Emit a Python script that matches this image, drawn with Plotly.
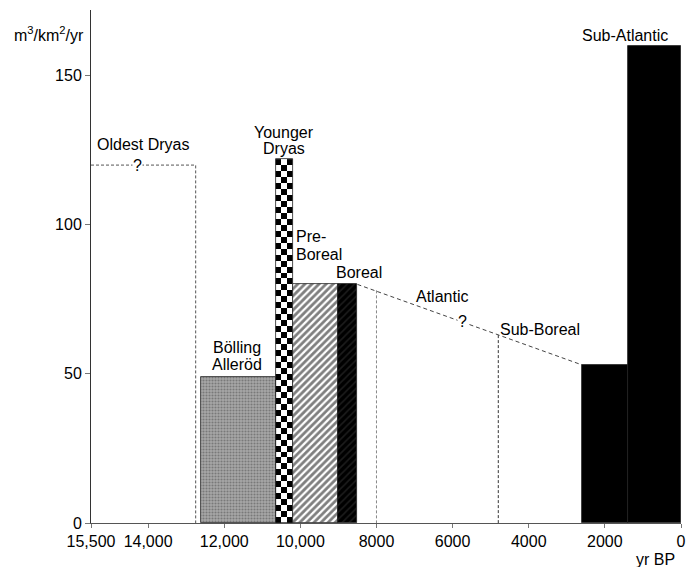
import numpy as np
import plotly.graph_objects as go

# ---- data (years BP, m3/km2/yr) ----
periods = ["Bölling Alleröd", "Younger Dryas", "Pre-Boreal", "Boreal", "Sub-Boreal", "Sub-Atlantic"]
period_start = [12600, 10650, 10200, 9000, 2600, 1400]
period_end = [10650, 10200, 9000, 8500, 1400, 0]
period_value = [49, 122, 80, 80, 53, 160]

oldest_dryas_x = [15500, 12750, 12750]
oldest_dryas_y = [120, 120, 0]

atlantic_x = [8500, 2600]
atlantic_y = [80, 53]

divider_x = [8000, 4800]
divider_top = [78, 63]

x_tickvals = [15500, 14000, 12000, 10000, 8000, 6000, 4000, 2000, 0]
x_ticktext = ["15,500", "14,000", "12,000", "10,000", "8000", "6000", "4000", "2000", "0"]
y_tickvals = [0, 50, 100, 150]

FONT = "Liberation Sans, Arial, Helvetica, sans-serif"

fig = go.Figure()

# checkerboard texture for the Younger Dryas bar (built from its extents)
yd = periods.index("Younger Dryas")
ncol = 3
nrow = int(round(period_value[yd] / 2.0))
dx = (period_start[yd] - period_end[yd]) / ncol
dy = period_value[yd] / nrow
z = np.indices((nrow, ncol)).sum(axis=0) % 2
fig.add_trace(go.Heatmap(
    z=z, x0=period_end[yd] + dx / 2, dx=dx, y0=dy / 2, dy=dy,
    colorscale=[[0, "black"], [1, "white"]], showscale=False,
    zsmooth=False, hoverinfo="skip"))

fills = {
    "Bölling Alleröd": dict(color="#9c9c9c", pattern=dict(shape=".", fgcolor="#4a4a4a", bgcolor="#a8a8a8", size=3, solidity=0.4)),
    "Younger Dryas": dict(color="rgba(0,0,0,0)"),
    "Pre-Boreal": dict(color="white", pattern=dict(shape="/", fgcolor="black", bgcolor="white", size=5, solidity=0.55)),
    "Boreal": dict(color="black", pattern=dict(shape="/", fgcolor="#3a3a3a", bgcolor="black", size=5, solidity=0.3)),
    "Sub-Boreal": dict(color="black"),
    "Sub-Atlantic": dict(color="black"),
}

for name, s, e, v in zip(periods, period_start, period_end, period_value):
    m = dict(fills[name])
    m["line"] = dict(color="#222222", width=0.8)
    fig.add_trace(go.Bar(
        x=[(s + e) / 2], y=[v], width=[s - e], base=0,
        marker=m, name=name, showlegend=False, hoverinfo="skip"))

# Oldest Dryas dotted outline
fig.add_trace(go.Scatter(x=oldest_dryas_x, y=oldest_dryas_y, mode="lines",
                         line=dict(color="#555555", width=1, dash="3px,2px"),
                         showlegend=False, hoverinfo="skip"))
# Atlantic sloping line
fig.add_trace(go.Scatter(x=atlantic_x, y=atlantic_y, mode="lines",
                         line=dict(color="#444444", width=1, dash="4px,3px"),
                         showlegend=False, hoverinfo="skip"))
# vertical dividers
for xv, top, col in zip(divider_x, divider_top, ["#888888", "#333333"]):
    fig.add_trace(go.Scatter(x=[xv, xv], y=[top, 0], mode="lines",
                             line=dict(color=col, width=1, dash="3px,2px"),
                             showlegend=False, hoverinfo="skip"))

labels = [
    ("Oldest Dryas", 14130, 127, "center"),
    ("Younger", 10430, 131, "center"),
    ("Dryas", 10430, 125.5, "center"),
    ("Pre-", 10160, 96, "left"),
    ("Boreal", 10160, 90, "left"),
    ("Boreal", 8460, 84, "center"),
    ("Bölling", 11665, 59, "center"),
    ("Alleröd", 11665, 53.3, "center"),
    ("Atlantic", 6280, 76, "center"),
    ("Sub-Boreal", 3705, 65, "center"),
    ("Sub-Atlantic", 1470, 163.5, "center"),
]
for txt, x, y, al in labels:
    fig.add_annotation(x=x, y=y, text=txt, showarrow=False, xanchor=al, align=al,
                       yanchor="middle", font=dict(family=FONT, size=16, color="black"))

for x, y in [(14275, 120), (5735, 67.6)]:
    fig.add_annotation(x=x, y=y, text="?", showarrow=False, bgcolor="white",
                       borderpad=0, font=dict(family=FONT, size=16, color="black"))

fig.add_annotation(x=-79 / 590, y=0.953, xref="paper", yref="paper", text="m<sup>3</sup>/km<sup>2</sup>/yr",
                   showarrow=False, xanchor="left", yanchor="middle",
                   font=dict(family=FONT, size=16, color="black"))
fig.add_annotation(x=0.994, y=-0.0715, xref="paper", yref="paper", text="yr BP",
                   showarrow=False, xanchor="right", yanchor="middle",
                   font=dict(family=FONT, size=16, color="black"))

fig.update_layout(
    width=686, height=567,
    margin=dict(l=91, r=5, t=10, b=44, autoexpand=False),
    plot_bgcolor="white", paper_bgcolor="white",
    barmode="overlay", bargap=0,
    font=dict(family=FONT, size=16, color="black"),
    showlegend=False,
)
fig.update_xaxes(range=[15500, 0], tickvals=x_tickvals, ticktext=x_ticktext,
                 showgrid=False, zeroline=False, showline=True, linecolor="#555555", linewidth=1,
                 ticks="outside", ticklen=4, tickcolor="#777777", tickfont=dict(size=16))
fig.update_yaxes(range=[0, 172], tickvals=y_tickvals, showgrid=False, zeroline=False,
                 showline=True, linecolor="#333333", linewidth=1,
                 ticks="outside", ticklen=5, tickcolor="#777777", tickfont=dict(size=16))

fig.write_html("out.html", config={"displayModeBar": False},
               post_script="document.body.style.margin='0';document.body.style.padding='0';"
                           "document.body.style.overflow='hidden';")
